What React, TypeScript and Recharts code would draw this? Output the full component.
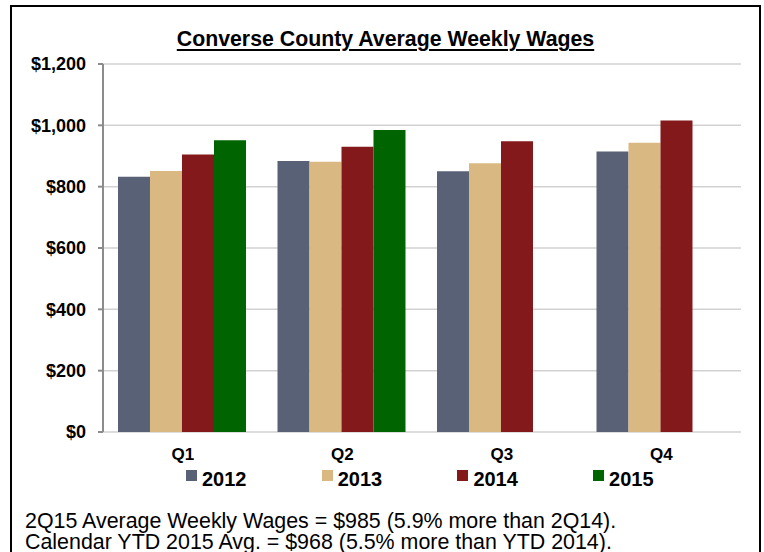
import React from 'react';
import { BarChart, Bar, XAxis, YAxis, CartesianGrid, Legend } from 'recharts';

const quarters = ['Q1', 'Q2', 'Q3', 'Q4'];
const wages2012 = [832, 884, 850, 915];
const wages2013 = [851, 881, 876, 943];
const wages2014 = [905, 930, 948, 1016];
const wages2015: (number | null)[] = [951, 985, null, null];
const seriesNames = ['2012', '2013', '2014', '2015'];
const seriesColors = ['#596177', '#d9b882', '#84191b', '#006400'];
const yTicks = [0, 200, 400, 600, 800, 1000, 1200];
const edgeTicks = [0, 1, 2, 3, 4];
const chartTitle = 'Converse County Average Weekly Wages';
const notes = [
  '2Q15 Average Weekly Wages = $985 (5.9% more than 2Q14).',
  'Calendar YTD 2015 Avg. = $968 (5.5% more than YTD 2014).',
];

const seriesValues = [wages2012, wages2013, wages2014, wages2015];

const data = quarters.map((q, i) => {
  const row: any = { quarter: q };
  seriesNames.forEach((name, s) => {
    row['y' + name] = seriesValues[s][i];
  });
  return row;
});

const FONT = '"Liberation Sans", Arial, sans-serif';
const AXIS_GRAY = '#8c8c8c';

const fmtDollar = (v: number) => '$' + v.toLocaleString('en-US');

const renderLegend = (props: any) => {
  const items = props.payload || [];
  return (
    <div
      style={{
        height: 24,
        paddingLeft: 186,
        display: 'flex',
        boxSizing: 'border-box',
        fontFamily: FONT,
      }}
    >
      {items.map((it: any) => (
        <div
          key={it.value}
          style={{ flex: '0 0 135.7px', display: 'flex', alignItems: 'flex-start' }}
        >
          <span
            style={{
              display: 'inline-block',
              width: 11,
              height: 11,
              background: it.color,
              marginTop: 4,
              marginRight: 5,
            }}
          />
          <span
            style={{
              fontWeight: 'bold',
              fontSize: 20,
              lineHeight: '24px',
              position: 'relative',
              top: 1,
              color: '#000',
            }}
          >
            {it.value}
          </span>
        </div>
      ))}
    </div>
  );
};

export default function App() {
  return (
    <div
      style={{
        position: 'fixed',
        left: 0,
        top: 0,
        width: 764,
        height: 552,
        overflow: 'hidden',
        background: '#fff',
        fontFamily: FONT,
      }}
    >
      <div
        style={{
          position: 'absolute',
          left: 10,
          top: 5,
          width: 751,
          height: 570,
          border: '2px solid #000',
          boxSizing: 'border-box',
        }}
      />
      <div
        style={{
          position: 'absolute',
          left: 10,
          width: 751,
          top: 29,
          textAlign: 'center',
          fontSize: 21.3,
          lineHeight: '21px',
          fontWeight: 'bold',
          textDecoration: 'underline',
          textDecorationThickness: '2px',
          textUnderlineOffset: '3px',
          color: '#000',
        }}
      >
        {chartTitle}
      </div>
      <div style={{ position: 'absolute', left: 0, top: 0 }}>
        <BarChart
          width={764}
          height={552}
          data={data}
          margin={{ top: 64, right: 23, left: 0, bottom: 62 }}
          barCategoryGap="9.4%"
          barGap={0}
        >
          <CartesianGrid vertical={false} stroke="#d2d2d2" strokeWidth={1.5} />
          <XAxis
            xAxisId="edges"
            type="number"
            domain={[0, quarters.length]}
            ticks={edgeTicks}
            allowDataOverflow
            height={0}
            axisLine={{ stroke: AXIS_GRAY, strokeWidth: 2 }}
            tickLine={{ stroke: AXIS_GRAY, strokeWidth: 2 }}
            tickSize={5}
            tick={() => <g />}
          />
          <XAxis
            dataKey="quarter"
            height={34}
            axisLine={false}
            tickLine={false}
            tickSize={0}
            tickMargin={16}
            tick={{ fill: '#000', fontSize: 17, fontWeight: 'bold', fontFamily: FONT }}
          />
          <YAxis
            width={103}
            domain={[0, 1200]}
            ticks={yTicks}
            tickFormatter={fmtDollar}
            axisLine={{ stroke: AXIS_GRAY, strokeWidth: 2 }}
            tickLine={{ stroke: AXIS_GRAY, strokeWidth: 2 }}
            tickSize={5}
            tickMargin={12}
            tick={{ fill: '#000', fontSize: 18, fontWeight: 'bold', fontFamily: FONT }}
          />
          <Legend verticalAlign="bottom" content={renderLegend} />
          {seriesNames.map((name, s) => (
            <Bar
              key={name}
              dataKey={'y' + name}
              name={name}
              fill={seriesColors[s]}
              isAnimationActive={false}
            />
          ))}
        </BarChart>
      </div>
      <div
        style={{
          position: 'absolute',
          left: 25,
          top: 511,
          fontSize: 21.4,
          lineHeight: '21px',
          color: '#000',
          whiteSpace: 'nowrap',
        }}
      >
        {notes.map((n) => (
          <div key={n}>{n}</div>
        ))}
      </div>
    </div>
  );
}
